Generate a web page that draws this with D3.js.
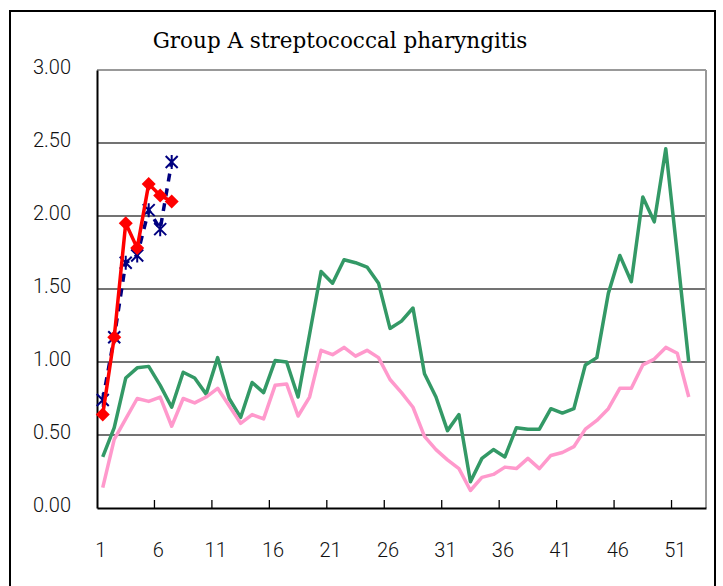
<!DOCTYPE html>
<html>
<head>
<meta charset="utf-8">
<script src="https://cdn.jsdelivr.net/npm/d3@7"></script>
<style>
  body { margin: 0; background: #fff; }
  svg { display: block; }
</style>
</head>
<body>
<div id="chart"></div>
<script>
// weekly values
const weeks = d3.range(1, 54);
const xLabels = [1, 6, 11, 16, 21, 26, 31, 36, 41, 46, 51];
const yTicks = [0, 0.5, 1, 1.5, 2, 2.5, 3];

const green = [0.35, 0.55, 0.89, 0.96, 0.97, 0.84, 0.69, 0.93, 0.89, 0.78,
  1.03, 0.75, 0.62, 0.86, 0.79, 1.01, 1.00, 0.76, 1.19, 1.62,
  1.54, 1.70, 1.68, 1.65, 1.54, 1.23, 1.28, 1.37, 0.92, 0.76,
  0.53, 0.64, 0.18, 0.34, 0.40, 0.35, 0.55, 0.54, 0.54, 0.68,
  0.65, 0.68, 0.98, 1.03, 1.47, 1.73, 1.55, 2.13, 1.96, 2.46,
  1.74, 1.00];
const pink = [0.14, 0.47, 0.61, 0.75, 0.73, 0.76, 0.56, 0.75, 0.72, 0.76,
  0.82, 0.70, 0.58, 0.64, 0.61, 0.84, 0.85, 0.63, 0.76, 1.08,
  1.05, 1.10, 1.04, 1.08, 1.03, 0.88, 0.79, 0.69, 0.49, 0.40,
  0.33, 0.27, 0.12, 0.21, 0.23, 0.28, 0.27, 0.34, 0.27, 0.36,
  0.38, 0.42, 0.54, 0.60, 0.68, 0.82, 0.82, 0.98, 1.02, 1.10,
  1.06, 0.76];
const navy = [0.74, 1.17, 1.68, 1.73, 2.04, 1.91, 2.37];
const red = [0.64, 1.17, 1.95, 1.78, 2.22, 2.14, 2.10];

const W = 723, H = 586;
const plot = {left: 97, top: 70, right: 706, bottom: 508};
const labelFont = "Roboto, sans-serif";

const svg = d3.select("#chart").append("svg")
  .attr("width", W).attr("height", H);

// outer frame
svg.append("rect")
  .attr("x", 10).attr("y", 11)
  .attr("width", 705).attr("height", 600)
  .attr("fill", "none").attr("stroke", "#000").attr("stroke-width", 2);

svg.append("text")
  .attr("x", 340).attr("y", 48)
  .attr("text-anchor", "middle")
  .attr("font-family", "DejaVu Serif, serif")
  .attr("font-size", 21.5)
  .text("Group A streptococcal pharyngitis");

const x = d3.scaleBand().domain(weeks).range([plot.left, plot.right]).padding(0);
const y = d3.scaleLinear().domain([0, 3]).range([plot.bottom, plot.top]);
const cx = d => x(d) + x.bandwidth() / 2;

// gridlines
svg.append("g").selectAll("line")
  .data(yTicks.filter(d => d > 0))
  .join("line")
  .attr("x1", plot.left).attr("x2", plot.right)
  .attr("y1", d => y(d)).attr("y2", d => y(d))
  .attr("stroke", d => d == 3 ? "#999" : "#444")
  .attr("stroke-width", d => d == 3 ? 2 : 1.3);

// right border of plot area
svg.append("line")
  .attr("x1", plot.right).attr("x2", plot.right)
  .attr("y1", plot.top).attr("y2", plot.bottom)
  .attr("stroke", "#999").attr("stroke-width", 2);

// y axis
const yAxis = d3.axisLeft(y).tickValues(yTicks).tickSize(0).tickPadding(26)
  .tickFormat(d3.format(".2f"));
const gy = svg.append("g").attr("transform", `translate(${plot.left},0)`).call(yAxis);
gy.select(".domain").attr("stroke", "#000").attr("stroke-width", 2);
gy.selectAll("text")
  .attr("font-family", labelFont).attr("font-weight", 300)
  .attr("font-size", 20).attr("fill", "#111")
  .attr("y", -3);

// x axis: labels at category centres, ticks at every 5th boundary
const xAxis = d3.axisBottom(x).tickValues(xLabels).tickSize(0).tickPadding(35);
const gx = svg.append("g").attr("transform", `translate(0,${plot.bottom})`).call(xAxis);
gx.select(".domain").attr("stroke", "#000").attr("stroke-width", 2);
gx.selectAll("text")
  .attr("font-family", labelFont).attr("font-weight", 300)
  .attr("font-size", 20).attr("fill", "#111")
  .attr("x", -2);

svg.append("g").selectAll("line")
  .data([5, 10, 15, 20, 25, 30, 35, 40, 45, 50])
  .join("line")
  .attr("x1", d => x(d) + x.bandwidth()).attr("x2", d => x(d) + x.bandwidth())
  .attr("y1", plot.bottom).attr("y2", plot.bottom - 8)
  .attr("stroke", "#000").attr("stroke-width", 1.3);

const line = d3.line().x((d, i) => cx(weeks[i])).y(d => y(d));

svg.append("path").datum(green).attr("d", line)
  .attr("fill", "none").attr("stroke", "#339966").attr("stroke-width", 3.5)
  .attr("stroke-linejoin", "round");
svg.append("path").datum(pink).attr("d", line)
  .attr("fill", "none").attr("stroke", "#FF99CC").attr("stroke-width", 3.5)
  .attr("stroke-linejoin", "round");

svg.append("path").datum(navy).attr("d", line)
  .attr("fill", "none").attr("stroke", "#000080").attr("stroke-width", 3.5)
  .attr("stroke-dasharray", "8,7");
svg.append("g").selectAll("path")
  .data(navy)
  .join("path")
  .attr("transform", (d, i) => `translate(${cx(weeks[i])},${y(d)})`)
  .attr("d", "M-6,-6L6,6M-6,6L6,-6M0,-7L0,7")
  .attr("stroke", "#000080").attr("stroke-width", 2).attr("fill", "none");

svg.append("path").datum(red).attr("d", line)
  .attr("fill", "none").attr("stroke", "#FF0000").attr("stroke-width", 3.5)
  .attr("stroke-linejoin", "round");
svg.append("g").selectAll("path")
  .data(red)
  .join("path")
  .attr("transform", (d, i) => `translate(${cx(weeks[i])},${y(d)})`)
  .attr("d", "M0,-7L7,0L0,7L-7,0Z")
  .attr("fill", "#FF0000");
</script>
</body>
</html>
